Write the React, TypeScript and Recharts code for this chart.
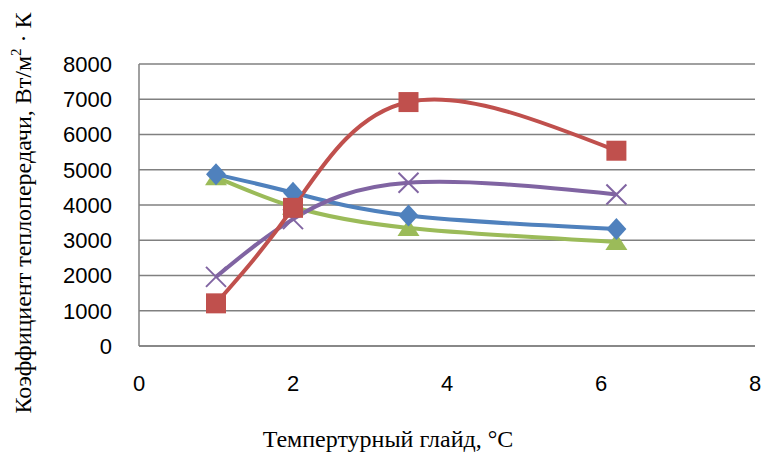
import { CartesianGrid, Line, LineChart, XAxis, YAxis } from 'recharts';

const xValues = [1, 2, 3.5, 6.2];
const blueSeries = [4870, 4350, 3700, 3320];
const redSeries = [1210, 3920, 6920, 5540];
const greenSeries = [4790, 3950, 3350, 2950];
const purpleSeries = [1960, 3600, 4630, 4300];
const xTicks = [0, 2, 4, 6, 8];
const yTicks = [0, 1000, 2000, 3000, 4000, 5000, 6000, 7000, 8000];

const data = xValues.map((x, i) => ({
  x,
  blue: blueSeries[i],
  red: redSeries[i],
  green: greenSeries[i],
  purple: purpleSeries[i],
}));

const BLUE = '#4F81BD';
const RED = '#C0504D';
const GREEN = '#9BBB59';
const PURPLE = '#8064A2';
const GRID = '#808080';

const tickStyle = { fontFamily: 'Liberation Sans', fontSize: 22, fill: '#000' };

const diamondDot = (p: any) => (
  <polygon
    key={`d-${p.index}`}
    points={`${p.cx},${p.cy - 11} ${p.cx + 10},${p.cy} ${p.cx},${p.cy + 11} ${p.cx - 10},${p.cy}`}
    fill={BLUE}
  />
);

const squareDot = (p: any) => (
  <rect key={`s-${p.index}`} x={p.cx - 10} y={p.cy - 10} width={20} height={20} fill={RED} />
);

const triangleDot = (p: any) => (
  <polygon
    key={`t-${p.index}`}
    points={`${p.cx},${p.cy - 9} ${p.cx + 11},${p.cy + 8} ${p.cx - 11},${p.cy + 8}`}
    fill={GREEN}
  />
);

const crossDot = (p: any) => (
  <g key={`c-${p.index}`} stroke={PURPLE} strokeWidth={2}>
    <line x1={p.cx - 10} y1={p.cy - 10} x2={p.cx + 10} y2={p.cy + 10} />
    <line x1={p.cx - 10} y1={p.cy + 10} x2={p.cx + 10} y2={p.cy - 10} />
  </g>
);

const YTitle = () => (
  <text
    transform="translate(31, 213) rotate(-90)"
    textAnchor="middle"
    fontFamily="Liberation Serif"
    fontSize={24}
    fill="#000"
  >
    Коэффициент теплопередачи, Вт/м
    <tspan dy={-10} fontSize={15}>2</tspan>
    <tspan dy={10}> · К</tspan>
  </text>
);

const XTitle = () => (
  <text x={388} y={447} textAnchor="middle" fontFamily="Liberation Serif" fontSize={24} fill="#000">
    Темпертурный глайд, °С
  </text>
);

export default function App() {
  return (
    <div style={{ position: 'absolute', left: 0, top: 0 }}>
      <LineChart width={761} height={452} data={data} margin={{ top: 64, right: 6, bottom: 0, left: 0 }}>
        <CartesianGrid vertical={false} stroke={GRID} strokeWidth={1.5} />
        <XAxis
          dataKey="x"
          type="number"
          domain={[0, 8]}
          ticks={xTicks}
          height={106}
          tickLine={false}
          tickMargin={23}
          axisLine={{ stroke: GRID, strokeWidth: 1.5 }}
          tick={tickStyle}
          label={{ content: () => <XTitle /> }}
        />
        <YAxis
          type="number"
          domain={[0, 8000]}
          ticks={yTicks}
          width={139}
          tickLine={false}
          tickMargin={21}
          axisLine={{ stroke: GRID, strokeWidth: 1.5 }}
          tick={tickStyle}
          label={{ content: () => <YTitle /> }}
        />
        <Line type="natural" dataKey="green" stroke={GREEN} strokeWidth={4} dot={triangleDot} isAnimationActive={false} />
        <Line type="natural" dataKey="blue" stroke={BLUE} strokeWidth={4} dot={diamondDot} isAnimationActive={false} />
        <Line type="natural" dataKey="purple" stroke={PURPLE} strokeWidth={4} dot={crossDot} isAnimationActive={false} />
        <Line type="natural" dataKey="red" stroke={RED} strokeWidth={4} dot={squareDot} isAnimationActive={false} />
      </LineChart>
    </div>
  );
}
